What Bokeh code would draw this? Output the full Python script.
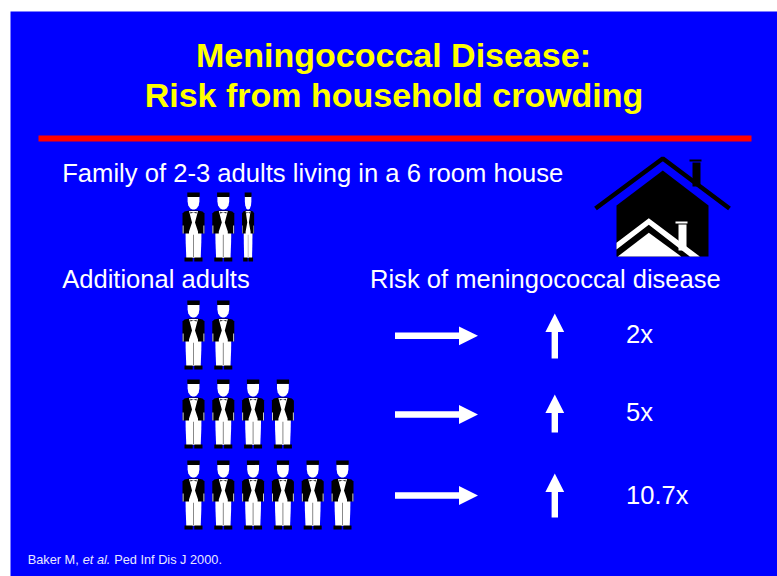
from bokeh.plotting import figure
from bokeh.embed import file_html
from bokeh.resources import INLINE
from bokeh.core.properties import value
from bokeh.models import Range1d

# ---- content ----
title_lines = ["Meningococcal Disease:", "Risk from household crowding"]
base_label = "Family of 2-3 adults living in a 6 room house"
base_adults = 2.5
left_header = "Additional adults"
right_header = "Risk of meningococcal disease"
additional_adults = [2, 4, 6]
risk_multiplier = [2, 5, 10.7]
risk_labels = ["2x", "5x", "10.7x"]
source_parts = [("Baker M,", "normal"), ("et al.", "italic"), ("Ped Inf Dis J 2000.", "normal")]

# ---- layout (page pixels) ----
row_top = [300, 379, 460]
row_mid = [335.3, 414, 495]
up_top = [313, 394, 473]
up_bot = [358, 432, 517]
label_base = [343, 421, 504]
source_x = [27.2, 82.2, 113.7]
base_top = 192
person_x0, person_dx = 193, 29.8
BLUE, YELLOW, RED = "#0000FF", "#FFFF00", "#FF0000"
FONT = value("Liberation Sans")
TXT = 0.38  # offset of the drawn baseline, per em

p = figure(width=777, height=576, output_backend="svg", toolbar_location=None,
           x_range=Range1d(0, 777), y_range=Range1d(576, 0), min_border=0,
           background_fill_color="white", border_fill_color="white", outline_line_color=None)
p.xaxis.visible = False
p.yaxis.visible = False
p.xgrid.visible = False
p.ygrid.visible = False

def poly(xs, ys, c):
    p.patch(xs, ys, fill_color=c, line_color=None)

def person(cx, top, sx=1.0):
    X = lambda l: [cx + v * sx for v in l]
    Y = lambda l: [top + v for v in l]
    # trousers with a grey seam
    poly(X([-8, 8, 7.8, 7.2, -7.2, -7.8]), Y([36, 36, 50, 65.5, 65.5, 50]), "white")
    poly(X([-0.5, 0.5, 0.5, -0.5]), Y([42, 42, 65, 65]), "#888888")
    # feet
    poly(X([-9, -0.8, -0.8, -9]), Y([65, 65, 69, 69]), "black")
    poly(X([0.8, 9, 9, 0.8]), Y([65, 65, 69, 69]), "black")
    # jacket
    poly(X([-11, -9, -4, 4, 9, 11, 11, -11]),
         Y([21, 19, 18, 18, 19, 21, 41, 41]), "black")
    # shirt and open front
    poly(X([-4.5, 4.5, 1.5, 4.5, 4.5, -4.5, -4.5, -1.5]), Y([18.5, 18.5, 30, 39, 42, 42, 39, 30]), "white")
    # bow tie
    poly(X([-3.2, 3.2, 3.2, -3.2]), Y([19.2, 21, 19.2, 21]), "#333333")
    # hands
    poly(X([-10.8, -10, -10, -10.8]), Y([33, 33, 41, 41]), "white")
    poly(X([10, 10.8, 10.8, 10]), Y([33, 33, 41, 41]), "white")
    # head and hat
    poly(X([-5.9, 5.9, 5.9, 5.2, 3.2, 1, -1, -3.2, -5.2, -5.9]), Y([4, 4, 9, 13, 16, 17, 17, 16, 13, 9]), "white")
    poly(X([-6.2, 6.2, 6.2, -6.2]), Y([0, 0, 4.4, 4.4]), "black")

def arrow_right(x0, x1, y):
    poly([x0, x1 - 19, x1 - 19, x1, x1 - 19, x1 - 19, x0],
         [y - 3.3, y - 3.3, y - 9.4, y, y + 9.4, y + 3.3, y + 3.3], "white")

def arrow_up(x, y0, y1):
    poly([x - 3.2, x - 3.2, x - 9.4, x, x + 9.4, x + 3.2, x + 3.2],
         [y1, y0 + 18.5, y0 + 18.5, y0, y0 + 18.5, y0 + 18.5, y1], "white")

def text(x, y, s, size, color="white", align="left", style="normal"):
    p.text([x], [y - TXT * size], text=[s], text_font=FONT, text_font_size=f"{size}px", text_color=color,
           text_align=align, text_baseline="alphabetic", text_font_style=style)

# background, rule
p.quad(left=[10], right=[777], top=[11], bottom=[576], fill_color=BLUE, line_color=None)
p.quad(left=[38], right=[751], top=[135], bottom=[141], fill_color=RED, line_color=None)

# title
text(393, 67, title_lines[0], 34, YELLOW, "center", "bold")
text(393.5, 107, title_lines[1], 34, YELLOW, "center", "bold")

# labels
text(61.7, 182, base_label, 25.62)
text(61.7, 288, left_header, 25.55)
text(369.5, 288, right_header, 25.55)

# base family: whole adults plus a narrower partial one
whole = int(base_adults)
for i in range(whole):
    person(person_x0 + i * person_dx, base_top)
person(person_x0 + whole * person_dx - 5, base_top, 0.55)

# rows
for n, label, top, mid, ut, ub, lb in zip(additional_adults, risk_labels, row_top, row_mid, up_top, up_bot, label_base):
    for i in range(n):
        person(person_x0 + i * person_dx, top)
    arrow_right(394.5, 477.5, mid)
    arrow_up(554.3, ut, ub)
    text(625.5, lb, label, 25.55)

# house
poly([616, 662.3, 708, 708, 616], [205, 170, 205, 256, 256], "black")
poly([692, 700, 700, 692], [162, 162, 186, 186], "black")
poly([689, 701, 701, 689], [159, 159, 161, 161], "black")
p.line([595, 662.3, 729], [208, 158, 208], line_color="black", line_width=4.6)
# inner white chimney and roofs
poly([678, 686, 686, 678], [224, 224, 250, 250], "white")
poly([675, 687, 687, 675], [221, 221, 223, 223], "white")
poly([616, 648.3, 699.3, 689.3, 648.3, 616], [242.3, 217.7, 256, 256, 224.3, 249], "white")
poly([617.3, 648.3, 680.7], [256, 232.3, 256], "white")

# footnote
for (s, st), x in zip(source_parts, source_x):
    text(x, 564, s, 12.75, "#E8E8FF", "left", st)

open("out.html", "w").write(file_html(p, INLINE))
